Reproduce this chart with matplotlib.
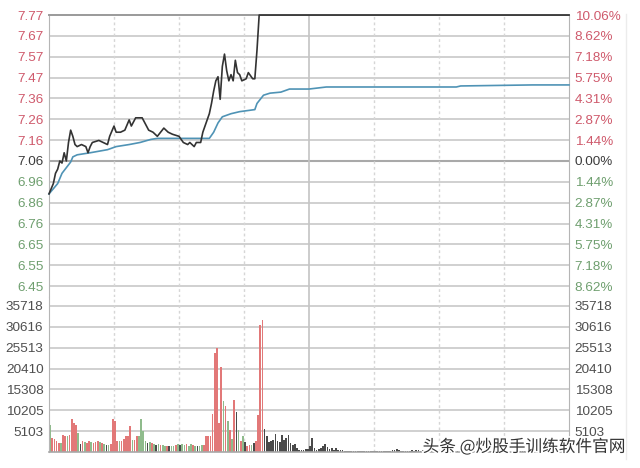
"""
Intraday chart: minute price, average price and volume
"""

import matplotlib.pyplot as plt
import matplotlib.patheffects as pe
from matplotlib.lines import Line2D

plt.rcParams['font.family'] = ['Liberation Sans', 'DejaVu Sans']

prev_close = 7.06

# price line (minute, price)
price_t = [0, 2, 3, 4, 5, 6, 7, 8, 9, 10, 11, 12, 13, 15, 17, 18, 19, 20, 23, 25,
           27, 28, 30, 31, 33, 35, 37, 38, 40, 41, 43, 44, 46, 48, 50, 53, 55, 57, 60, 62,
           64, 65, 67, 68, 70, 71, 72, 73, 74, 75, 76, 77, 78, 79, 80, 81, 82, 83, 84, 85,
           86, 87, 88, 89, 91, 92, 94, 95, 96, 97, 240]
price_v = [6.90, 6.95, 7.00, 7.02, 7.06, 7.05, 7.10, 7.06, 7.15, 7.21, 7.18, 7.14, 7.13, 7.14, 7.13, 7.10, 7.13, 7.15, 7.16, 7.15,
           7.14, 7.18, 7.23, 7.20, 7.20, 7.21, 7.26, 7.23, 7.27, 7.27, 7.27, 7.25, 7.21, 7.20, 7.18, 7.22, 7.20, 7.19, 7.18, 7.15,
           7.14, 7.15, 7.13, 7.15, 7.15, 7.20, 7.23, 7.26, 7.29, 7.34, 7.40, 7.45, 7.47, 7.36, 7.52, 7.58, 7.50, 7.45, 7.48, 7.45,
           7.55, 7.49, 7.48, 7.45, 7.46, 7.49, 7.46, 7.46, 7.60, 7.77, 7.77]

# average price line (minute, price)
avg_t = [0, 4, 6, 10, 11, 13, 19, 27, 31, 37, 42, 47, 50, 60, 74, 76, 78, 80, 84, 88,
         95, 96, 99, 102, 107, 111, 120, 128, 188, 190, 223, 240]
avg_v = [6.90, 6.95, 7.00, 7.055, 7.08, 7.09, 7.10, 7.115, 7.13, 7.14, 7.15, 7.165, 7.17, 7.17, 7.17, 7.20, 7.245, 7.275, 7.29, 7.30,
         7.31, 7.34, 7.38, 7.39, 7.395, 7.41, 7.41, 7.42, 7.42, 7.425, 7.43, 7.43]

# volume per minute
volume = [6700, 3400, 3200, 2600, 2200, 2200, 4200, 3800, 3800, 4200,
          8100, 7100, 6700, 4600, 2000, 2600, 2400, 2200, 2600, 2400,
          2200, 2400, 2600, 2400, 2200, 2000, 1600, 1800, 2000, 8100,
          7500, 2600, 2600, 2600, 3200, 3800, 4000, 6300, 3000, 3000,
          3800, 3800, 8100, 5100, 2600, 2200, 2400, 2200, 2000, 1800,
          2000, 1800, 1800, 1500, 1500, 1400, 1500, 1400, 1700, 2000,
          1800, 2000, 1800, 2000, 1500, 1900, 1800, 1400, 1500, 1400,
          1600, 1800, 4000, 3800, 3800, 9400, 24200, 25400, 7100, 20700,
          12400, 11200, 7500, 5500, 3200, 12800, 9900, 5500, 2600, 3800,
          2400, 1500, 1700, 1800, 2200, 2600, 9100, 31100, 32400, 5600,
          3800, 2400, 2600, 2900, 4500, 2600, 2400, 4200, 3000, 3400,
          4200, 2200, 1800, 1900, 1000, 600, 600, 600, 700, 800,
          1400, 3400, 1100, 400, 700, 1100, 1500, 2000, 1200, 800,
          1000, 600, 900, 500, 500, 400, 300, 250, 300, 250,
          200, 250, 300, 250, 200, 250, 300, 200, 250, 200,
          250, 200, 300, 250, 200, 250, 200, 300, 400, 500,
          700, 400, 300, 250, 200, 250, 300, 400, 350, 450,
          400, 350, 450, 400, 300, 250, 200, 250, 300, 250,
          200, 250, 300, 200, 250, 200, 300, 250, 200, 250,
          300, 250, 200, 250, 200, 300, 250, 200, 250, 300,
          250, 200, 300, 250, 200, 250, 200, 250, 300, 250,
          200, 250, 300, 250, 200, 250, 200, 300, 250, 200,
          250, 300, 200, 250, 200, 250, 300, 250, 200, 250,
          300, 250, 200, 250, 300, 200, 250, 200, 300, 250]

# 1 = up minute, -1 = down minute, 0 = unchanged
direction = [-1, 1, 1, 1, 1, -1, 1, 1, -1, 1,
             1, 1, 1, -1, 0, 1, -1, 1, 1, -1,
             1, 1, 1, -1, 1, -1, 0, -1, 1, 1,
             1, 1, -1, 1, 1, 1, 1, 1, -1, 1,
             1, -1, -1, -1, -1, 0, -1, 1, -1, 0,
             -1, 1, -1, -1, 1, 0, -1, -1, 1, -1,
             0, -1, -1, 1, -1, -1, 1, -1, 0, -1,
             -1, 1, 1, 1, 1, 1, 1, 1, 1, 1,
             -1, 1, -1, 1, -1, 1, 0, -1, 1, -1,
             0, 1, 1, -1, 0, 1, 1, 1, 1, 0] + [0] * 140

pct_levels = [10.06, 8.62, 7.18, 5.75, 4.31, 2.87, 1.44, 0.00,
              -1.44, -2.87, -4.31, -5.75, -7.18, -8.62]
price_labels = ['7.77', '7.67', '7.57', '7.47', '7.36', '7.26', '7.16', '7.06',
                '6.96', '6.86', '6.76', '6.65', '6.55', '6.45']
pct_labels = ['10.06%', '8.62%', '7.18%', '5.75%', '4.31%', '2.87%', '1.44%', '0.00%',
              '1.44%', '2.87%', '4.31%', '5.75%', '7.18%', '8.62%']
vol_ticks = [5103, 10205, 15308, 20410, 25513, 30616, 35718]

RED = '#cf5a6c'
GREEN = '#6f9f6f'
DARK = '#3c3c3c'
GRID = '#cdcdcd'


def level_color(p):
    if p > 0:
        return RED
    if p < 0:
        return GREEN
    return DARK


def vertical_grid(ax):
    """
    Half hour lines, the midday one solid
    """
    for m in [30, 60, 90, 150, 180, 210]:
        ax.axvline(m, color='#d6d6d6', lw=1.0, ls=(0, (2, 2)), zorder=0)
    ax.axvline(120, color='#c4c4c4', lw=1.2, zorder=0)


def main():
    W, H = 640, 468
    fig = plt.figure(figsize=(W / 100, H / 100), dpi=100)
    left, right = 49, 569
    top, split, base = 15, 296.5, 452

    ax_p = fig.add_axes([left / W, 1 - split / H, (right - left) / W, (split - top) / H])
    ax_v = fig.add_axes([left / W, 1 - base / H, (right - left) / W, (base - split) / H], sharex=ax_p)

    # price panel
    levels = [prev_close * (1 + p / 100) for p in pct_levels]
    step = (levels[0] - levels[-1]) / (len(levels) - 1)
    ax_p.set_ylim(levels[-1] - step / 2, levels[0])
    ax_p.set_xlim(0, 240)
    for lv, p in zip(levels[1:], pct_levels[1:]):
        if p == 0:
            ax_p.axhline(lv, color='#a9a9a9', lw=1.5, zorder=0)
        else:
            ax_p.axhline(lv, color=GRID, lw=1.3, zorder=0)
    vertical_grid(ax_p)

    ax_p.plot(avg_t, avg_v, color='#4f93b5', lw=1.2, zorder=3, clip_on=False)
    ax_p.plot(price_t, price_v, color='#333333', lw=1.2, zorder=4, clip_on=False)

    ax_p.set_yticks(levels)
    ax_p.set_yticklabels(price_labels)
    for lab, p in zip(ax_p.get_yticklabels(), pct_levels):
        lab.set_color(level_color(p))
    ax_p.tick_params(axis='y', length=0, pad=4, labelsize=9.7)
    ax_p.tick_params(axis='x', length=0, labelbottom=False)

    ax_r = ax_p.twinx()
    ax_r.set_ylim(ax_p.get_ylim())
    ax_r.set_yticks(levels)
    ax_r.set_yticklabels(pct_labels)
    for lab, p in zip(ax_r.get_yticklabels(), pct_levels):
        lab.set_color(level_color(p))
    ax_r.tick_params(axis='y', length=0, pad=4, labelsize=9.7)
    for s in ax_r.spines.values():
        s.set_visible(False)

    ax_p.spines['bottom'].set_visible(False)
    ax_p.spines['top'].set_color('#9a9a9a')
    ax_p.spines['top'].set_linewidth(1.4)
    ax_p.spines['left'].set_color('#b5b5b5')
    ax_p.spines['right'].set_color('#b5b5b5')

    # volume panel
    vstep = vol_ticks[1] - vol_ticks[0]
    ax_v.set_ylim(0, vol_ticks[-1] + vstep * 0.455)
    for v in vol_ticks:
        ax_v.axhline(v, color=GRID, lw=1.3, zorder=0)
    vertical_grid(ax_v)

    colors = {1: '#e27878', -1: '#8fbb8c', 0: '#4a4a4a'}
    x = [m + 0.5 for m in range(len(volume))]
    ax_v.bar(x, volume, width=0.78, color=[colors[d] for d in direction], zorder=2)

    ax_v.set_yticks(vol_ticks)
    ax_v.set_yticklabels([str(v) for v in vol_ticks])
    ax_v.tick_params(axis='y', length=0, pad=4, labelsize=9.7, labelcolor='#4e4e4e')
    ax_v.tick_params(axis='x', length=0, labelbottom=False)

    ax_vr = ax_v.twinx()
    ax_vr.set_ylim(ax_v.get_ylim())
    ax_vr.set_yticks(vol_ticks)
    ax_vr.set_yticklabels([str(v) for v in vol_ticks])
    ax_vr.tick_params(axis='y', length=0, pad=4, labelsize=9.7, labelcolor='#4e4e4e')
    for s in ax_vr.spines.values():
        s.set_visible(False)

    ax_v.spines['top'].set_visible(False)
    ax_v.spines['bottom'].set_color('#a8a8a8')
    ax_v.spines['bottom'].set_linewidth(1.2)
    ax_v.spines['left'].set_color('#b5b5b5')
    ax_v.spines['right'].set_color('#b5b5b5')

    # faint frame line right of the labels
    fig.add_artist(Line2D([626 / W, 626 / W], [0.02, 0.97], color='#ececec', lw=1))

    fig.text(625 / W, 1 - 447 / H, '头条 @炒股手训练软件官网', ha='right', va='center',
             fontsize=12, color='#333333', family=['Noto Sans CJK SC', 'DejaVu Sans'],
             path_effects=[pe.withStroke(linewidth=2.5, foreground='white')])

    fig.savefig('out.png', dpi=100)


if __name__ == "__main__":
    main()
